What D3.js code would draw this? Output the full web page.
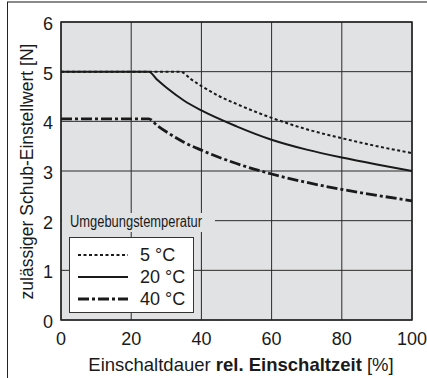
<!DOCTYPE html>
<meta charset="utf-8">
<html>
<head>
<style>
  body { margin: 0; background: #fff; }
  svg { display: block; font-family: "Liberation Sans", Arial, sans-serif; }
</style>
</head>
<body>
<svg id="chart" width="427" height="378"></svg>
<script src="https://cdn.jsdelivr.net/npm/d3@7"></script>
<script>
// data
var xTicks = [0, 20, 40, 60, 80, 100];
var yTicks = [0, 1, 2, 3, 4, 5, 6];
var seriesNames = ["5 °C", "20 °C", "40 °C"];
var t5 = [[0, 5], [34, 5], [37, 4.85], [40, 4.71], [45, 4.51], [50, 4.35], [60, 4.07], [70, 3.84], [80, 3.66], [90, 3.5], [100, 3.36]];
var t20 = [[0, 5], [25, 5], [27.5, 4.83], [30, 4.68], [35, 4.42], [40, 4.22], [50, 3.9], [60, 3.63], [70, 3.43], [80, 3.27], [90, 3.13], [100, 3.0]];
var t40 = [[0, 4.05], [25, 4.05], [27.5, 3.91], [30, 3.79], [35, 3.58], [40, 3.42], [50, 3.15], [60, 2.94], [70, 2.77], [80, 2.63], [90, 2.51], [100, 2.4]];

var svg = d3.select("#chart");
var m = { left: 61, right: 412, top: 22, bottom: 320 };

var x = d3.scaleLinear().domain([0, 100]).range([m.left, m.right]);
var y = d3.scaleLinear().domain([0, 6]).range([m.bottom, m.top]);

// outer frame (top + left only)
svg.append("line").attr("x1", 7).attr("x2", 427).attr("y1", 2).attr("y2", 2)
  .attr("stroke", "#8a8a8a").attr("stroke-width", 2);
svg.append("line").attr("x1", 7.5).attr("x2", 7.5).attr("y1", 2).attr("y2", 378)
  .attr("stroke", "#222").attr("stroke-width", 1);

// plot background
svg.append("rect").attr("x", m.left).attr("y", m.top)
  .attr("width", m.right - m.left).attr("height", m.bottom - m.top)
  .attr("fill", "#e1e2e4");

// grid
svg.append("g").selectAll("line").data(xTicks).enter().append("line")
  .attr("x1", function (d) { return x(d) }).attr("x2", function (d) { return x(d) })
  .attr("y1", m.top).attr("y2", m.bottom)
  .attr("stroke", "#2a2a2a").attr("stroke-width", 1);
svg.append("g").selectAll("line").data(yTicks).enter().append("line")
  .attr("x1", m.left).attr("x2", m.right)
  .attr("y1", function (d) { return y(d) }).attr("y2", function (d) { return y(d) })
  .attr("stroke", "#2a2a2a").attr("stroke-width", 1);

// plot border
svg.append("rect").attr("x", m.left).attr("y", m.top)
  .attr("width", m.right - m.left).attr("height", m.bottom - m.top)
  .attr("fill", "none").attr("stroke", "#222").attr("stroke-width", 1.5);

// tick labels
svg.append("g").selectAll("text").data(yTicks).enter().append("text")
  .attr("x", 53).attr("y", function (d) { return y(d) + 8 })
  .attr("text-anchor", "end")
  .style("font-size", "18px").attr("fill", "#1a1a1a")
  .text(function (d) { return d });
svg.append("g").selectAll("text").data(xTicks).enter().append("text")
  .attr("x", function (d) { return x(d) }).attr("y", 345)
  .attr("text-anchor", "middle")
  .style("font-size", "18px").attr("fill", "#1a1a1a")
  .text(function (d) { return d });

// axis titles
var xt = svg.append("text").attr("x", 241).attr("y", 371)
  .attr("text-anchor", "middle").style("font-size", "18.5px").attr("fill", "#1a1a1a");
xt.append("tspan").text("Einschaltdauer ");
xt.append("tspan").attr("font-weight", "bold").text("rel. Einschaltzeit");
xt.append("tspan").text(" [%]");

svg.append("text")
  .attr("transform", "translate(27," + ((37 + 306) / 2) + ") rotate(-90)")
  .attr("dy", "0.36em").attr("text-anchor", "middle")
  .style("font-size", "17.5px").attr("fill", "#1a1a1a")
  .text("zulässiger Schub-Einstellwert [N]");

// curves
var line = d3.line()
  .x(function (d) { return x(d[0]) })
  .y(function (d) { return y(d[1]) })
  .curve(d3.curveMonotoneX);

var styles = [
  { dash: "3,2.5", width: 2 },
  { dash: null, width: 2 },
  { dash: "11,3,3,3", width: 2.8 }
];
var series = [t5, t20, t40];

svg.append("g").selectAll("path").data(series).enter().append("path")
  .attr("d", line)
  .attr("fill", "none")
  .attr("stroke", "#1a1a1a")
  .attr("stroke-width", function (d, i) { return styles[i].width })
  .attr("stroke-dasharray", function (d, i) { return styles[i].dash });

// legend
svg.append("rect").attr("x", 62).attr("y", 213).attr("width", 153).attr("height", 19)
  .attr("fill", "#e1e2e4");
svg.append("text").attr("x", 70).attr("y", 227)
  .style("font-size", "16px").attr("fill", "#1a1a1a")
  .attr("textLength", 132).attr("lengthAdjust", "spacingAndGlyphs")
  .text("Umgebungstemperatur");

svg.append("rect").attr("x", 69.5).attr("y", 237.5).attr("width", 124).attr("height", 75)
  .attr("fill", "#fff").attr("stroke", "#333").attr("stroke-width", 1);

var rowY = [255, 277, 299];
var lg = svg.append("g").selectAll("g").data(seriesNames).enter().append("g");
lg.append("line")
  .attr("x1", 78).attr("x2", 128)
  .attr("y1", function (d, i) { return rowY[i] }).attr("y2", function (d, i) { return rowY[i] })
  .attr("stroke", "#1a1a1a")
  .attr("stroke-width", function (d, i) { return styles[i].width })
  .attr("stroke-dasharray", function (d, i) { return styles[i].dash });
lg.append("text")
  .attr("x", 140).attr("y", function (d, i) { return rowY[i] + 6 })
  .style("font-size", "18px").attr("fill", "#1a1a1a")
  .text(function (d) { return d });
</script>
</body>
</html>
